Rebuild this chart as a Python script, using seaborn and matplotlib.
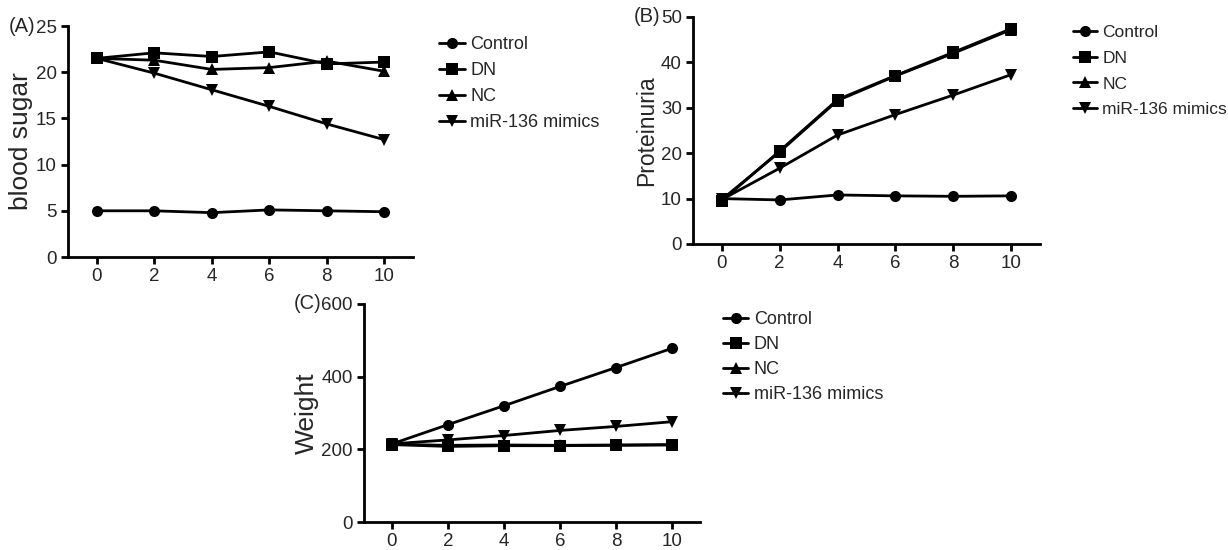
import pandas as pd
import matplotlib.pyplot as plt
import seaborn as sns

sns.set_style("ticks")
plt.rcParams['font.family'] = ['Liberation Sans', 'DejaVu Sans']

weeks = [0, 2, 4, 6, 8, 10]
groups = ['Control', 'DN', 'NC', 'miR-136 mimics']

# (A) blood sugar
sugar_control = [5.0, 5.0, 4.8, 5.1, 5.0, 4.9]
sugar_dn = [21.5, 22.1, 21.7, 22.2, 20.9, 21.1]
sugar_nc = [21.5, 21.3, 20.3, 20.5, 21.2, 20.1]
sugar_mir = [21.5, 19.9, 18.1, 16.3, 14.4, 12.7]

# (B) proteinuria
prot_control = [10.0, 9.7, 10.8, 10.6, 10.5, 10.6]
prot_dn = [9.5, 20.5, 31.8, 37.1, 42.2, 47.4]
prot_nc = [9.8, 20.3, 31.6, 37.0, 42.0, 47.2]
prot_mir = [9.8, 16.7, 24.0, 28.5, 32.8, 37.3]

# (C) weight
weight_control = [215, 268, 320, 373, 425, 478]
weight_dn = [213, 208, 210, 210, 211, 212]
weight_nc = [214, 211, 212, 211, 212, 213]
weight_mir = [215, 226, 238, 252, 263, 276]

markers = {'Control': 'o', 'DN': 's', 'NC': '^', 'miR-136 mimics': 'v'}


def make_df(series):
    rows = []
    for g, vals in zip(groups, series):
        for w, v in zip(weeks, vals):
            rows.append({'week': w, 'value': v, 'group': g})
    return pd.DataFrame(rows)


fig = plt.figure(figsize=(12.28, 5.5), dpi=100)

# tag, ylabel, data, axes rect, ylim, yticks, legend anchor, ylabel size, tag offset, legend font, legend spacing
panels = [
    ('(A)', 'blood sugar', [sugar_control, sugar_dn, sugar_nc, sugar_mir],
     [0.0554, 0.5327, 0.281, 0.42], (0, 25), [0, 5, 10, 15, 20, 25],
     (0.352, 0.947), 19, -33, 13, 0.5),
    ('(B)', 'Proteinuria', [prot_control, prot_dn, prot_nc, prot_mir],
     [0.5643, 0.5564, 0.2826, 0.4127], (0, 50), [0, 10, 20, 30, 40, 50],
     (0.868, 0.968), 16.5, -33, 12.5, 0.62),
    ('(C)', 'Weight', [weight_control, weight_dn, weight_nc, weight_mir],
     [0.2964, 0.0509, 0.2736, 0.3964], (0, 600), [0, 200, 400, 600],
     (0.583, 0.448), 19, -42, 13, 0.45),
]

for tag, ylabel, series, pos, ylim, yticks, leg_pos, ysize, tag_dx, leg_fs, leg_sp in panels:
    ax = fig.add_axes(pos)
    df = make_df(series)
    sns.lineplot(data=df, x='week', y='value', hue='group', style='group',
                 palette=['black'] * 4, markers=markers, dashes=False,
                 markersize=8, linewidth=2, markeredgewidth=0, ax=ax)
    ax.set_xlim(-1, 11)
    ax.set_ylim(*ylim)
    ax.set_xticks(weeks)
    ax.set_yticks(yticks)
    ax.set_xlabel('')
    ax.set_ylabel(ylabel, fontsize=ysize, labelpad=2)
    ax.tick_params(labelsize=13.5, width=2, length=5, color='black', pad=3)
    sns.despine(ax=ax)
    for s in ['left', 'bottom']:
        ax.spines[s].set_linewidth(2)
        ax.spines[s].set_color('black')
    handles, labels = ax.get_legend_handles_labels()
    ax.get_legend().remove()
    fig.legend(handles, labels, loc='upper left', bbox_to_anchor=leg_pos,
               frameon=False, fontsize=leg_fs, handlelength=1.4, handletextpad=0.3,
               labelspacing=leg_sp, borderaxespad=0)
    ax.annotate(tag, xy=(0, 1), xycoords='axes fraction',
                xytext=(tag_dx, 0), textcoords='offset pixels',
                fontsize=14.5, ha='right', va='center')

fig.savefig('out.png', dpi=100)
